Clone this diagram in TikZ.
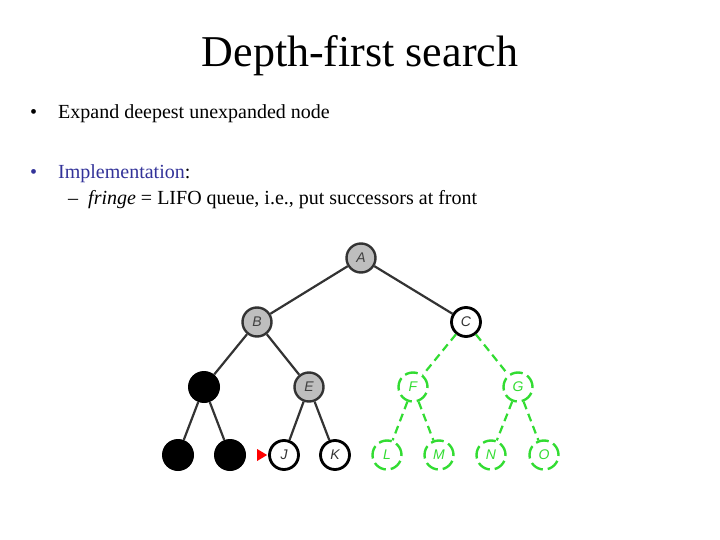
\documentclass[tikz,border=0pt]{standalone}
\usepackage{fontspec}
\setmainfont{Liberation Serif}
\setsansfont{Liberation Sans}
\usetikzlibrary{shapes.geometric}
\definecolor{implblue}{RGB}{51,51,153}
\definecolor{newgreen}{RGB}{50,220,50}
\definecolor{visitgray}{RGB}{190,190,190}

\tikzset{
	treenode/.style={circle, minimum size=29pt, inner sep=0pt, font=\sffamily\itshape\fontsize{14}{14}\selectfont},
	visited/.style={treenode, draw=black!80, line width=2.4pt, fill=visitgray, text=black!75},
	current/.style={treenode, draw=black, line width=2.8pt, fill=white, text=black!80},
	closed/.style={treenode, fill=black, minimum size=32pt},
	unseen/.style={treenode, draw=newgreen, line width=2.4pt, dash pattern=on 13pt off 5pt, text=newgreen},
	treeedge/.style={line width=2.2pt, black!80},
	newedge/.style={line width=2.2pt, newgreen, dash pattern=on 8pt off 5pt},
	bodytext/.style={anchor=base west, inner sep=0pt, font=\fontsize{20}{24}\selectfont}
}

\begin{document}
\begin{tikzpicture}[x=1pt, y=-1pt]
		%%%%% START %%%%%
		\useasboundingbox (0, 0) rectangle (720, 540);
		
		\node[inner sep=0pt, anchor=base, font=\fontsize{44}{52}\selectfont] (title) at (360, 67) {Depth-first search};
		
		\node[bodytext] (bul1) at (30, 119) {\textbullet};
		\node[bodytext] (txt1) at (58, 119) {Expand deepest unexpanded node};
		\node[bodytext, text=implblue] (bul2) at (30, 179) {\textbullet};
		\node[bodytext] (txt2) at (58, 179) {\textcolor{implblue}{Implementation}:};
		\node[bodytext] (dash) at (68, 205) {--};
		\node[bodytext] (txt3) at (88, 205) {\textit{fringe} = LIFO queue, i.e., put successors at front};
		
		% tree nodes
		\node[visited] (A) at (361, 258) {A};
		\node[visited] (B) at (257, 322) {B};
		\node[current] (C) at (466, 322) {C};
		\node[closed] (D) at (204, 387) {};
		\node[visited] (E) at (309, 387) {E};
		\node[unseen] (F) at (413, 387) {F};
		\node[unseen] (G) at (518, 387) {G};
		\node[closed] (H) at (178, 455) {};
		\node[closed] (I) at (230, 455) {};
		\node[current] (J) at (284, 455) {J};
		\node[current] (K) at (335, 455) {K};
		\node[unseen] (L) at (387, 455) {L};
		\node[unseen] (M) at (439, 455) {M};
		\node[unseen] (N) at (491, 455) {N};
		\node[unseen] (O) at (544, 455) {O};
		
		% edges
		\draw[treeedge] (A) -- (B);
		\draw[treeedge] (A) -- (C);
		\draw[treeedge] (B) -- (D);
		\draw[treeedge] (B) -- (E);
		\draw[treeedge] (D) -- (H);
		\draw[treeedge] (D) -- (I);
		\draw[treeedge] (E) -- (J);
		\draw[treeedge] (E) -- (K);
		\draw[newedge] (C) -- (F);
		\draw[newedge] (C) -- (G);
		\draw[newedge] (F) -- (L);
		\draw[newedge] (F) -- (M);
		\draw[newedge] (G) -- (N);
		\draw[newedge] (G) -- (O);
		
		% marker of the next node
		\coordinate (mark) at ([xshift=-1pt]J.west);
		\fill[red] (mark) -- ++(-10, -6) -- ++(0, 12) -- cycle;
		
		%%%%% END %%%%%
	\end{tikzpicture}
\end{document}
